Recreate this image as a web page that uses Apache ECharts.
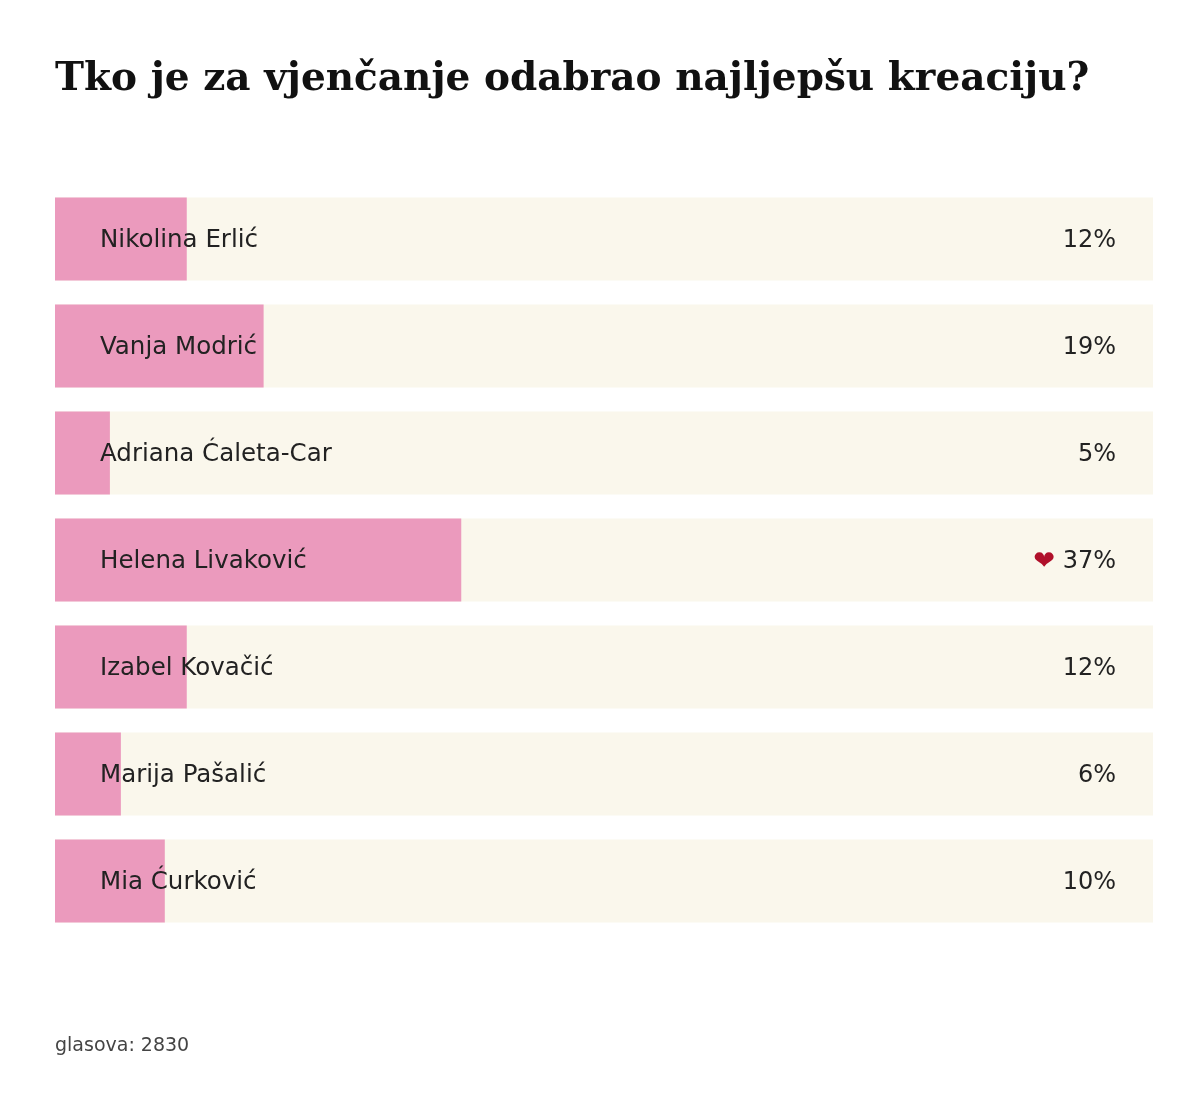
<!DOCTYPE html>
<html><head><meta charset="utf-8">
<script src="https://cdn.jsdelivr.net/npm/echarts@6/dist/echarts.min.js"></script>
<style>html,body{margin:0;background:#fff}#c{width:1200px;height:1120px}</style>
</head><body><div id="c"></div>
<script>
const names = ['Nikolina Erlić','Vanja Modrić','Adriana Ćaleta-Car','Helena Livaković','Izabel Kovačić','Marija Pašalić','Mia Ćurković'];
const values = [12,19,5,37,12,6,10];
const winner = 'Helena Livaković';
const totalVotes = 2830;
const full = names.map(()=>100);
const chart = echarts.init(document.getElementById('c'));
chart.setOption({
  animation:false,
  title:[{text:'Tko je za vjenčanje odabrao najljepšu kreaciju?',left:55,top:60,padding:0,
    textStyle:{fontFamily:'DejaVu Serif',fontWeight:'bold',fontSize:39,color:'#111'}},
    {text:'glasova: '+totalVotes,left:55,top:1037,padding:0,textStyle:{fontFamily:'DejaVu Sans',fontWeight:'normal',fontSize:19,color:'#444'}}],
  grid:{left:55,right:47,top:185.5,bottom:185.5},
  xAxis:{type:'value',min:0,max:100,show:false},
  yAxis:{type:'category',data:names,inverse:true,show:false},
  series:[
    {type:'bar',data:full,barWidth:83,itemStyle:{color:'#faf7ec'},silent:true,z:1,
     label:{show:true,position:'insideRight',distance:37,offset:[0,2],fontFamily:'DejaVu Sans',fontSize:24,color:'#222',
       formatter:p=>(p.name===winner?'{h|❤} ':'')+values[p.dataIndex]+'%',
       rich:{h:{color:'#b0102a',fontSize:26,fontFamily:'DejaVu Sans'}}}},
    {type:'bar',data:values,barWidth:83,barGap:'-100%',itemStyle:{color:'#eb9abd'},z:2,
     label:{show:true,position:'insideLeft',distance:45,offset:[0,2],fontFamily:'DejaVu Sans',fontSize:24.5,color:'#222',
       formatter:p=>p.name}}
  ]
});
</script></body></html>
